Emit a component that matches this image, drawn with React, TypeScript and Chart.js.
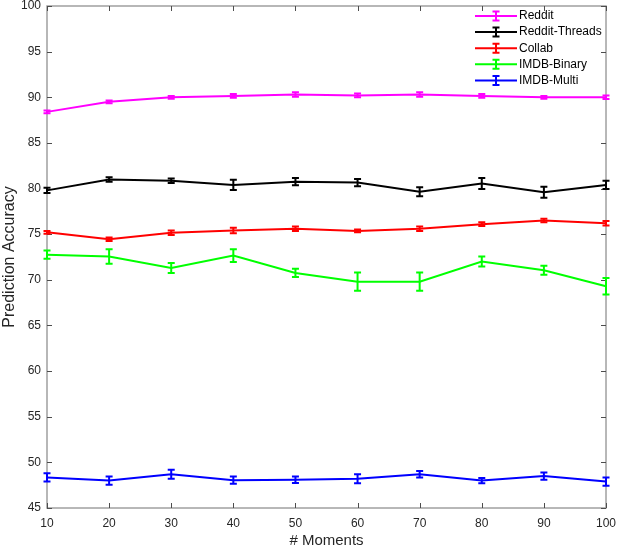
import { useEffect, useRef } from "react";
import { Chart, registerables } from "chart.js";

Chart.register(...registerables);

// Number of moments used (x axis)
const moments = [10, 20, 30, 40, 50, 60, 70, 80, 90, 100];

// Mean prediction accuracy and standard deviation per dataset
const reddit = [88.4, 89.5, 90.0, 90.15, 90.3, 90.2, 90.3, 90.15, 90.0, 90.0];
const redditErr = [0.15, 0.15, 0.15, 0.2, 0.25, 0.2, 0.25, 0.2, 0.15, 0.2];

const redditThreads = [79.8, 81.0, 80.85, 80.4, 80.75, 80.65, 79.65, 80.55, 79.6, 80.4];
const redditThreadsErr = [0.3, 0.25, 0.25, 0.55, 0.4, 0.4, 0.5, 0.6, 0.6, 0.45];

const collab = [75.2, 74.45, 75.15, 75.4, 75.6, 75.35, 75.6, 76.1, 76.5, 76.2];
const collabErr = [0.15, 0.2, 0.25, 0.3, 0.25, 0.15, 0.25, 0.2, 0.2, 0.25];

const imdbBinary = [72.75, 72.55, 71.3, 72.65, 70.75, 69.8, 69.8, 72.0, 71.05, 69.3];
const imdbBinaryErr = [0.45, 0.8, 0.55, 0.7, 0.45, 1.0, 1.0, 0.55, 0.5, 0.9];

const imdbMulti = [48.35, 48.0, 48.7, 48.05, 48.1, 48.2, 48.7, 48.0, 48.5, 47.9];
const imdbMultiErr = [0.45, 0.45, 0.5, 0.4, 0.35, 0.5, 0.35, 0.3, 0.4, 0.45];

const seriesNames = ["Reddit", "Reddit-Threads", "Collab", "IMDB-Binary", "IMDB-Multi"];
const seriesColors = ["#ff00ff", "#000000", "#ff0000", "#00ff00", "#0000ff"];
const seriesValues = [reddit, redditThreads, collab, imdbBinary, imdbMulti];
const seriesErrors = [redditErr, redditThreadsErr, collabErr, imdbBinaryErr, imdbMultiErr];

const FONT = "'Liberation Sans', Arial, Helvetica, sans-serif";
const CAP = 3.5;

function strokeErrorBar(ctx: CanvasRenderingContext2D, x: number, top: number, bot: number) {
  ctx.beginPath();
  ctx.moveTo(x, top);
  ctx.lineTo(x, bot);
  ctx.moveTo(x - CAP, top);
  ctx.lineTo(x + CAP, top);
  ctx.moveTo(x - CAP, bot);
  ctx.lineTo(x + CAP, bot);
  ctx.stroke();
}

// Axes box with inward tick marks on all four sides
const axesBox = {
  id: "axesBox",
  beforeDatasetsDraw(chart: any) {
    const { ctx, chartArea, scales } = chart;
    const { left, right, top, bottom } = chartArea;
    ctx.save();
    ctx.strokeStyle = "#a0a0a0";
    ctx.lineWidth = 1.5;
    ctx.strokeRect(left, top, right - left, bottom - top);
    ctx.strokeStyle = "#4d4d4d";
    ctx.lineWidth = 1;
    const tl = 5;
    ctx.beginPath();
    scales.x.ticks.forEach((t: any) => {
      const px = Math.round(scales.x.getPixelForValue(t.value)) + 0.5;
      ctx.moveTo(px, bottom);
      ctx.lineTo(px, bottom - tl);
      ctx.moveTo(px, top);
      ctx.lineTo(px, top + tl);
    });
    scales.y.ticks.forEach((t: any) => {
      const py = Math.round(scales.y.getPixelForValue(t.value)) + 0.5;
      ctx.moveTo(left, py);
      ctx.lineTo(left + tl, py);
      ctx.moveTo(right, py);
      ctx.lineTo(right - tl, py);
    });
    ctx.stroke();
    ctx.restore();
  },
};

// Vertical error bars with caps, read from each dataset's `errors`
const errorBars = {
  id: "errorBars",
  afterDatasetsDraw(chart: any) {
    const { ctx, scales } = chart;
    chart.data.datasets.forEach((ds: any, i: number) => {
      const meta = chart.getDatasetMeta(i);
      ctx.save();
      ctx.strokeStyle = ds.borderColor;
      ctx.lineWidth = 2;
      meta.data.forEach((pt: any, j: number) => {
        const v = ds.data[j].y;
        const e = ds.errors[j];
        strokeErrorBar(ctx, pt.x, scales.y.getPixelForValue(v + e), scales.y.getPixelForValue(v - e));
      });
      ctx.restore();
    });
  },
};

// Legend in the upper right corner, each entry a line with an error bar
const boxLegend = {
  id: "boxLegend",
  afterDraw(chart: any) {
    const { ctx, chartArea } = chart;
    const x0 = chartArea.right - 131;
    const y0 = chartArea.top + 10;
    const rowH = 16.1;
    ctx.save();
    ctx.font = `12px ${FONT}`;
    ctx.textBaseline = "middle";
    ctx.textAlign = "left";
    chart.data.datasets.forEach((ds: any, i: number) => {
      const y = y0 + i * rowH;
      ctx.strokeStyle = ds.borderColor;
      ctx.lineWidth = 2;
      ctx.beginPath();
      ctx.moveTo(x0, y);
      ctx.lineTo(x0 + 42, y);
      ctx.stroke();
      strokeErrorBar(ctx, x0 + 21, y - 4.5, y + 4.5);
      ctx.fillStyle = "#000000";
      ctx.fillText(ds.label, x0 + 44, y);
    });
    ctx.restore();
  },
};

export default function App() {
  const canvasRef = useRef<HTMLCanvasElement | null>(null);

  useEffect(() => {
    document.body.style.margin = "0";
    const canvas = canvasRef.current;
    if (!canvas) return;

    const datasets = seriesNames.map((name, i) => ({
      label: name,
      data: moments.map((m, j) => ({ x: m, y: seriesValues[i][j] })),
      errors: seriesErrors[i],
      borderColor: seriesColors[i],
      backgroundColor: seriesColors[i],
      borderWidth: 2,
      pointRadius: 0,
      tension: 0,
      clip: false,
    }));

    const chart = new Chart(canvas, {
      type: "line",
      data: { datasets } as any,
      options: {
        responsive: false,
        animation: false,
        events: [],
        layout: { padding: { left: 0, top: 6, right: 12, bottom: 0 } },
        plugins: { legend: { display: false }, tooltip: { enabled: false } },
        scales: {
          x: {
            type: "linear",
            min: 10,
            max: 100,
            grid: { display: false, drawTicks: false },
            border: { display: false },
            ticks: {
              stepSize: 10,
              padding: 8,
              color: "#262626",
              font: { family: FONT, size: 12 },
            },
            title: {
              display: true,
              text: "# Moments",
              color: "#262626",
              font: { family: FONT, size: 15 },
              padding: { top: 0, bottom: 0 },
            },
            afterFit(scale: any) {
              scale.height = 42;
              scale.paddingLeft = 0;
              scale.paddingRight = 0;
            },
          },
          y: {
            min: 45,
            max: 100,
            grid: { display: false, drawTicks: false },
            border: { display: false },
            ticks: {
              stepSize: 5,
              padding: 6,
              color: "#262626",
              font: { family: FONT, size: 12 },
            },
            title: {
              display: true,
              text: "Prediction Accuracy",
              color: "#262626",
              font: { family: FONT, size: 16 },
              padding: { top: 0, bottom: 0 },
            },
            afterFit(scale: any) {
              scale.width = 47;
              scale.paddingTop = 0;
              scale.paddingBottom = 0;
            },
          },
        },
      },
      plugins: [axesBox, errorBars, boxLegend],
    });

    return () => chart.destroy();
  }, []);

  return (
    <div style={{ width: 618, height: 550 }}>
      <canvas ref={canvasRef} width={618} height={550} style={{ display: "block" }} />
    </div>
  );
}
